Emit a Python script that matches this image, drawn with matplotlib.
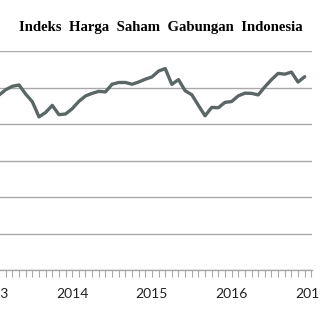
import numpy as np
import matplotlib.pyplot as plt

# monthly closing values, Feb 2013 .. Dec 2016
values = [4795, 4941, 5034, 5069, 4819, 4610, 4195, 4316, 4510, 4256, 4274,
          4419, 4620, 4768, 4840, 4894, 4879, 5089, 5137, 5138, 5089, 5150, 5227,
          5289, 5450, 5519, 5086, 5216, 4911, 4803, 4510, 4224, 4455, 4446, 4593,
          4615, 4771, 4845, 4839, 4797, 5017, 5216, 5386, 5365, 5423, 5149, 5297]
years = ["2013", "2014", "2015", "2016", "2017"]
title = "Indeks  Harga  Saham  Gabungan  Indonesia"

months = np.arange(1, len(values) + 1)

fig = plt.figure(figsize=(3.2, 3.2), dpi=100)
ax = fig.add_axes([-7.5 / 320, 50 / 320, 319.5 / 320, 219 / 320])

ax.plot(months, values, color="#5b6666", lw=2.4, solid_joinstyle="round",
        solid_capstyle="round", zorder=3)

ax.set_xlim(0, 48.1)
ax.set_ylim(0, 6000)
ax.set_yticks(np.arange(0, 6001, 1000))
ax.yaxis.grid(True, color="#a9a9a9", lw=1.0)
ax.tick_params(axis="y", left=False, labelleft=False)

ax.set_xticks(np.arange(0, 49, 12))
ax.set_xticklabels(years, family="Lato", fontsize=10, color="#222222")
ax.set_xticks(np.arange(0, 49, 1), minor=True)
ax.tick_params(axis="x", which="both", direction="out", length=5,
               color="#a9a9a9", width=0.8, pad=8)

for s in ["top", "left", "right"]:
    ax.spines[s].set_visible(False)
ax.spines["bottom"].set_color("#a9a9a9")
ax.spines["bottom"].set_linewidth(1.0)

fig.text(161 / 320, 1 - 28 / 320, title, ha="center", va="center",
         family="Liberation Serif", fontweight="bold", fontsize=10.6)

fig.savefig("out.png", dpi=100)
